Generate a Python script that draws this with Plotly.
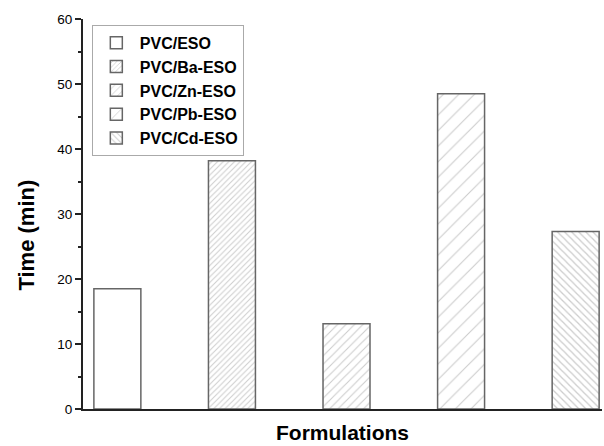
import plotly.graph_objects as go

names = ["PVC/ESO", "PVC/Ba-ESO", "PVC/Zn-ESO", "PVC/Pb-ESO", "PVC/Cd-ESO"]
positions = [1, 2, 3, 4, 5]
times = [18.5, 38.2, 13.1, 48.5, 27.3]
shapes = ["", "/", "/", "/", "\\"]
sizes = [8, 4, 6, 11, 5]
solid = [0.1, 0.25, 0.18, 0.1, 0.25]

fig = go.Figure()
for n, x, t, sh, sz, so in zip(names, positions, times, shapes, sizes, solid):
    fig.add_trace(go.Bar(
        x=[x], y=[t], name=n, width=0.41,
        marker=dict(color="white", line=dict(color="#666666", width=1.5),
                    pattern=dict(shape=sh, size=sz, solidity=so, fgcolor="#9a9a9a", bgcolor="white")),
    ))

fig.update_layout(
    width=604, height=446,
    margin=dict(l=83, r=2, t=19, b=37),
    barmode="overlay",
    plot_bgcolor="white", paper_bgcolor="white",
    font=dict(family="Liberation Sans, Arial", color="black"),
    showlegend=True,
    legend=dict(x=0.017, y=0.985, xanchor="left", yanchor="top",
                bordercolor="#aaaaaa", borderwidth=1, bgcolor="white",
                font=dict(size=16, family="Liberation Sans, Arial", color="black", weight="bold"),
                tracegroupgap=0, itemwidth=37),
    xaxis=dict(range=[0.70, 5.23], showticklabels=False, ticks="", showgrid=False,
               showline=True, linecolor="#222222", linewidth=2, zeroline=False,
               automargin=False),
    yaxis=dict(range=[0, 60], dtick=10, ticks="outside", ticklen=6, tickwidth=1.5,
               tickcolor="#222222",
               tickfont=dict(size=13.5), showgrid=False, showline=True, linecolor="#222222",
               linewidth=2, zeroline=False,
               minor=dict(dtick=5, ticks="outside", ticklen=3, tickwidth=1.5, tickcolor="#222222"),
               automargin=False),
    annotations=[
        dict(text="<b>Formulations</b>", xref="paper", yref="paper", x=0.5, y=0,
             xanchor="center", yanchor="middle", yshift=-23, showarrow=False,
             font=dict(size=21, color="black")),
        dict(text="<b>Time (min)</b>", xref="paper", yref="paper", x=0, y=0.446,
             xanchor="center", yanchor="middle", xshift=-56.5, textangle=-90, showarrow=False,
             font=dict(size=22, color="black")),
    ],
)

fig.write_html("out.html", config={"displayModeBar": False},
               post_script="document.body.style.margin='0';")
